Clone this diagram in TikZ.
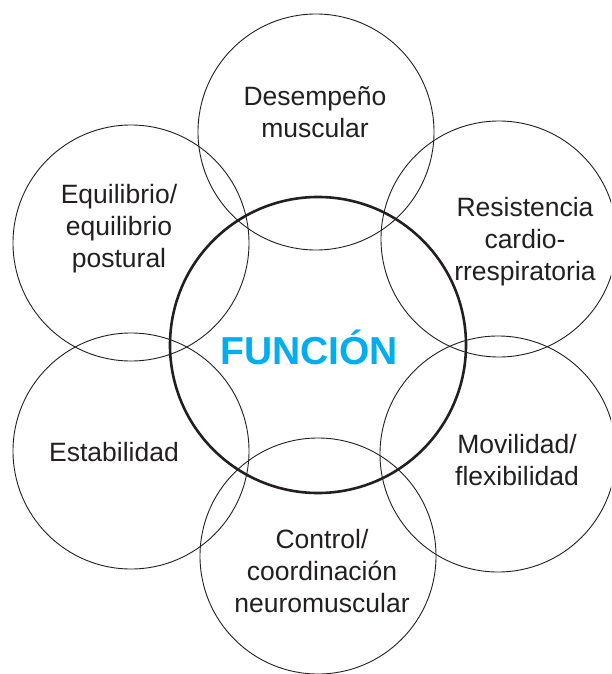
\documentclass[tikz,border=0pt]{standalone}
\usepackage{fontspec}
\setmainfont{Liberation Sans}
\definecolor{funcblue}{RGB}{0,174,239}
\definecolor{textgray}{RGB}{35,31,32}

\tikzstyle{area_circle}=[circle,draw=textgray,line width=0.9pt,minimum size=236pt,inner sep=0pt]
\tikzstyle{main_circle}=[circle,draw=textgray,line width=2.6pt,minimum size=296pt,inner sep=0pt]
\tikzstyle{area_text}=[align=center,text=textgray,font=\fontsize{26.5}{32}\selectfont]

\begin{document}
\begin{tikzpicture}[x=1pt,y=-1pt]
\useasboundingbox (0,0) rectangle (611,674);
\clip (0,0) rectangle (611,674);

\node [area_circle] (desempeno) at (316,132) {};
\node [area_circle] (resistencia) at (499,239) {};
\node [area_circle] (movilidad) at (498,454) {};
\node [area_circle] (control) at (318,556) {};
\node [area_circle] (estabilidad) at (131,451) {};
\node [area_circle] (equilibrio) at (131,243) {};

\node [main_circle] (funcion) at (318,345) {};

\node [area_text] (desempeno_text) at (315,112) {Desempeño\\muscular};
\node [area_text] (resistencia_text) at (525,242) {Resistencia\\cardio-\\rrespiratoria};
\node [area_text] (movilidad_text) at (517,460) {Movilidad/\\flexibilidad};
\node [area_text] (control_text) at (322,571) {Control/\\coordinación\\neuromuscular};
\node [area_text] (estabilidad_text) at (114,452) {Estabilidad};
\node [area_text] (equilibrio_text) at (119,229) {Equilibrio/\\equilibrio\\postural};

\node [text=funcblue,font=\fontsize{39}{40}\selectfont\bfseries] (funcion_text) at (309,347) {FUNCIÓN};

\end{tikzpicture}
\end{document}
